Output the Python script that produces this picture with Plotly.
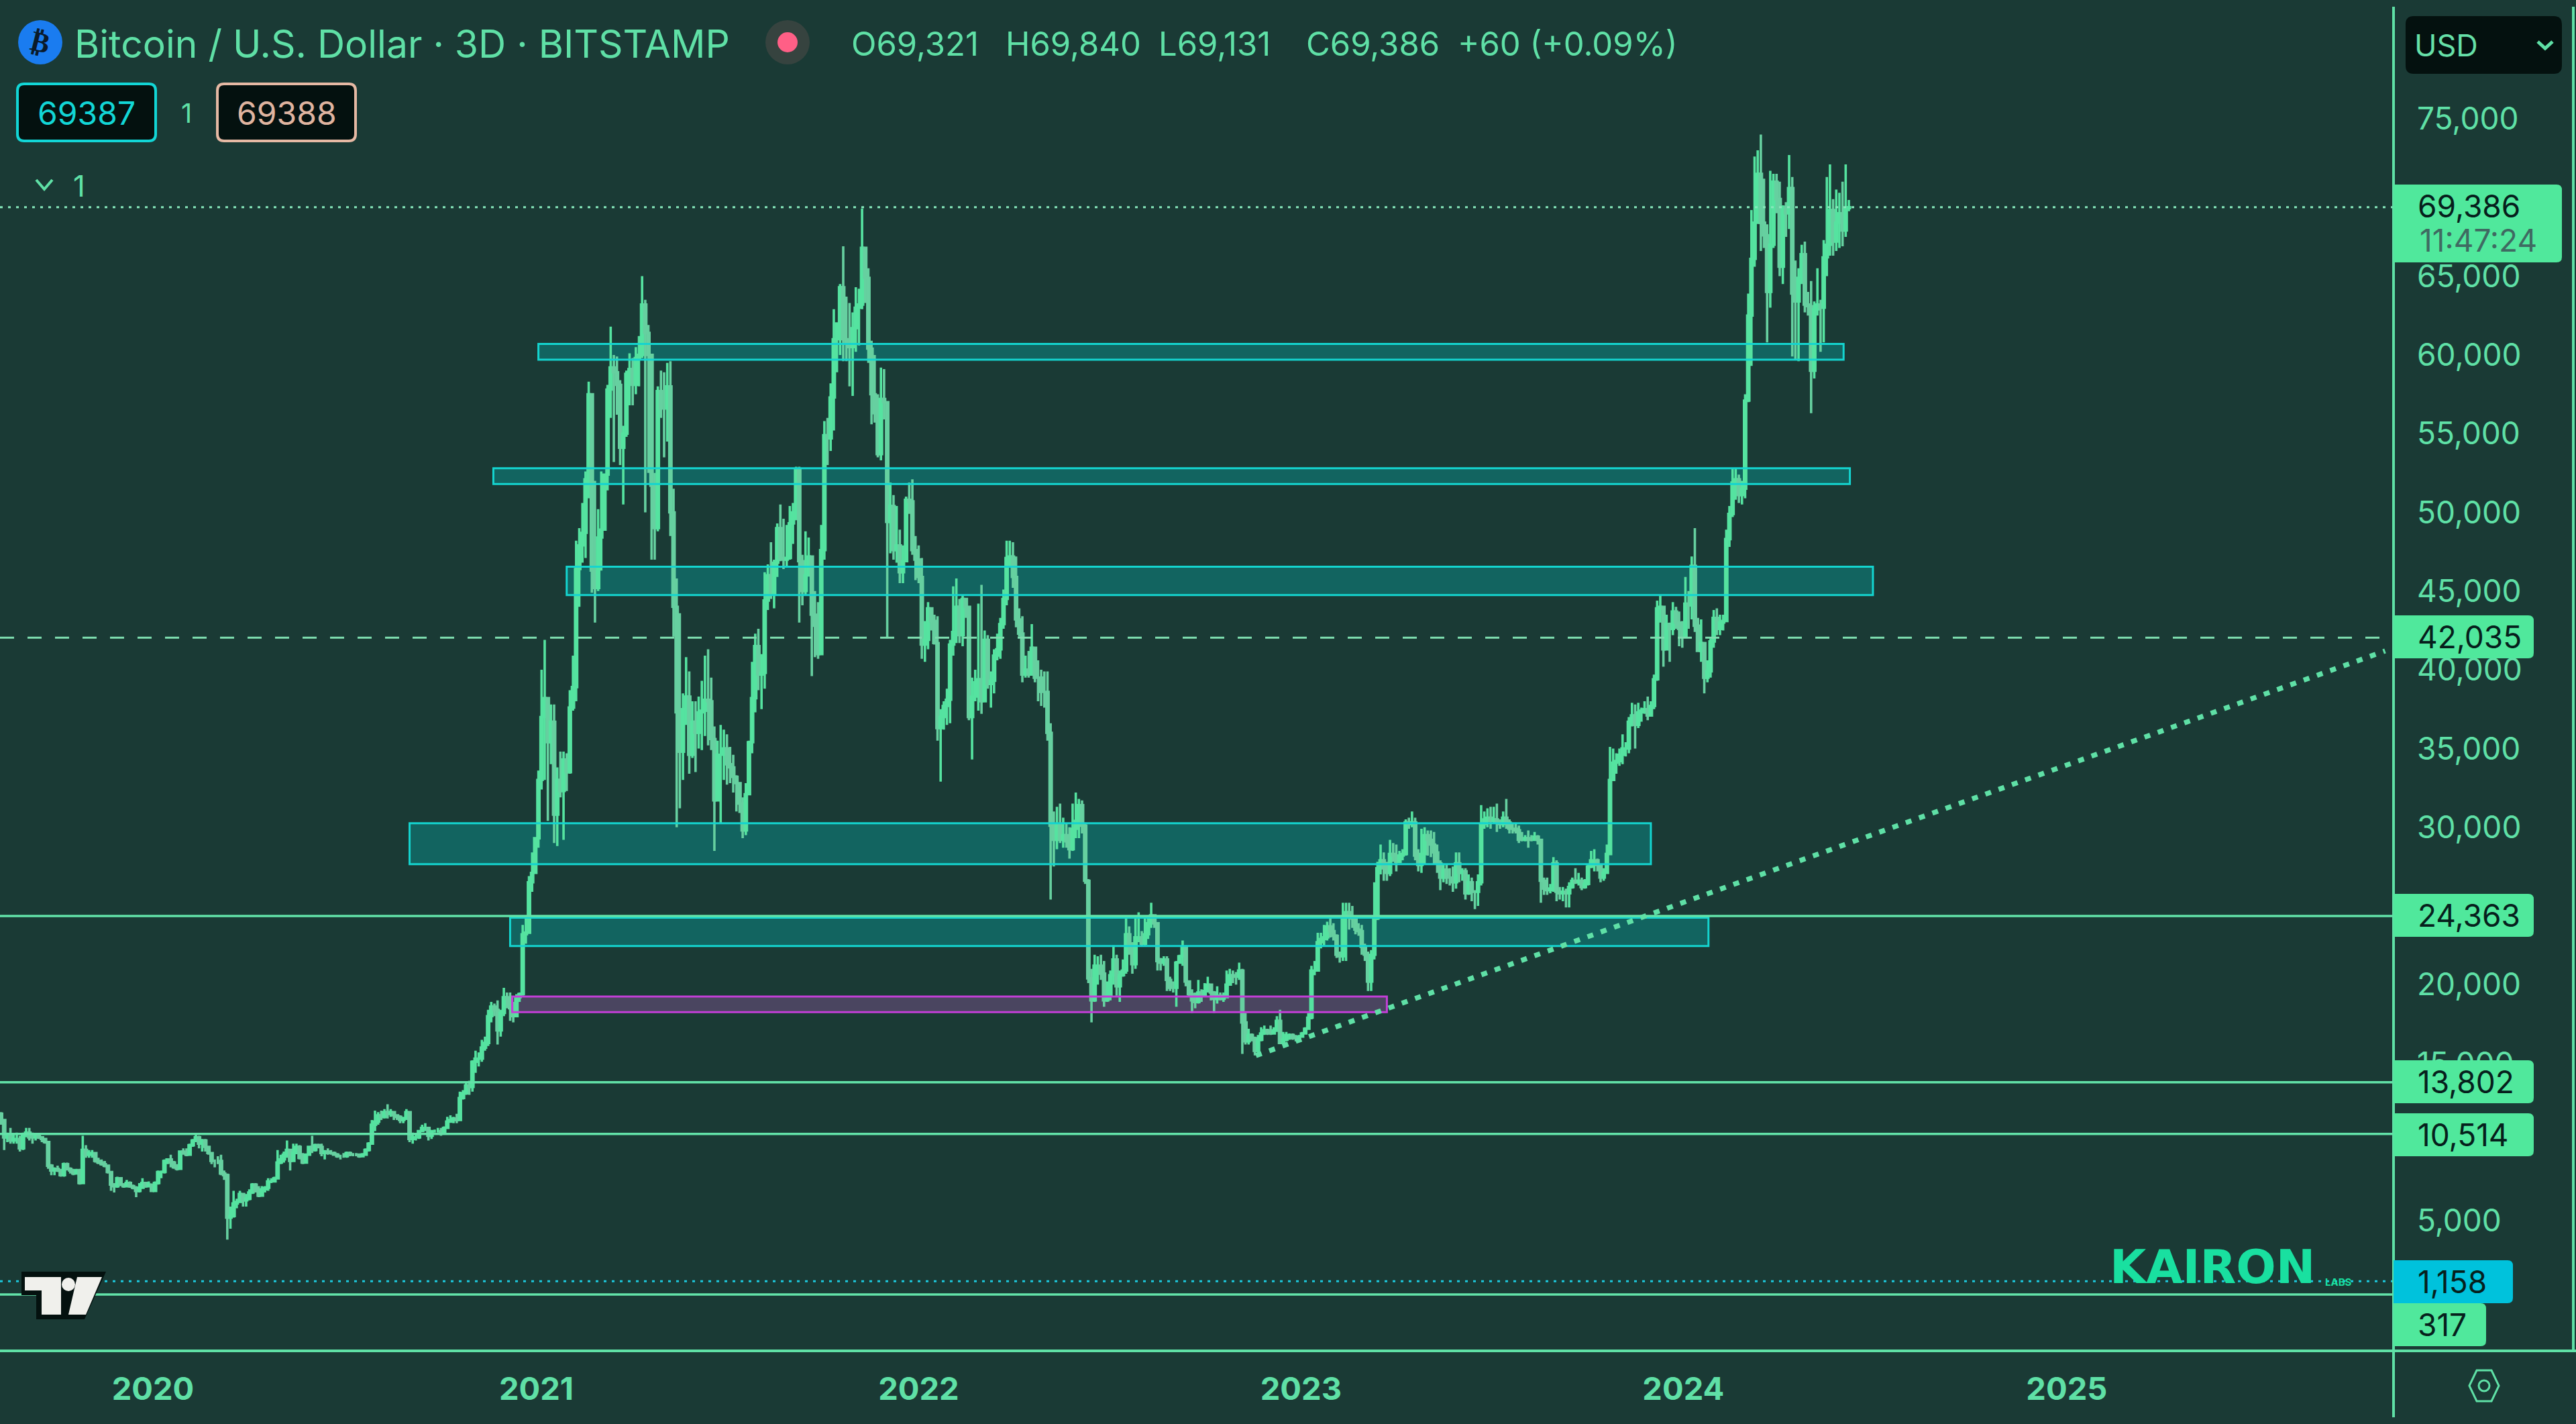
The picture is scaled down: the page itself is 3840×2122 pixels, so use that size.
import pandas as pd
import plotly.graph_objects as go

# ---- data (USD thousands)
first_open = 10.9
closes = [
11.4,11.8,11.4,10.3,10.4,10.1,10.2,10.2,9.6,10.4,
10.6,10.3,10.3,10.4,10.3,10.2,10.0,8.5,8.2,8.3,
8.2,7.9,8.6,8.3,8.2,8.0,8.2,7.4,9.5,9.2,
9.3,9.3,8.8,8.7,8.6,8.5,8.1,7.3,7.2,7.7,
7.3,7.2,7.4,7.2,7.1,6.9,7.1,7.4,7.2,7.3,
6.9,7.4,8.1,8.1,8.8,8.9,8.7,8.4,8.3,9.4,
9.3,9.2,9.8,10.1,10.3,9.9,10.1,9.7,9.3,8.8,
8.8,8.8,8.0,7.9,5.2,5.3,6.1,6.2,6.7,6.3,
6.4,6.8,7.3,6.9,6.6,7.0,7.1,7.5,7.5,7.7,
8.7,8.9,9.2,9.5,8.8,9.3,9.7,9.0,8.7,9.2,
9.7,9.5,9.8,9.7,9.3,9.4,9.3,9.3,9.2,9.1,
9.1,9.1,9.3,9.2,9.2,9.2,9.1,9.2,9.5,9.9,
11.1,11.3,11.7,11.6,11.9,11.8,11.9,11.7,11.6,11.4,
11.5,11.9,10.2,10.3,10.3,10.7,10.9,10.9,10.4,10.7,
10.7,10.7,10.6,10.9,11.3,11.4,11.5,11.4,12.8,13.1,
13.6,13.5,15.1,15.3,15.3,16.0,16.3,18.0,18.6,18.4,
17.1,18.2,19.2,19.1,18.5,18.0,19.2,19.4,23.2,23.3,
26.5,27.1,29.3,33.0,37.0,38.2,35.4,36.7,30.8,33.0,
32.3,34.3,33.5,37.6,38.9,46.4,47.9,48.7,52.1,57.5,
46.3,45.2,48.4,48.9,52.4,57.8,59.2,58.9,58.1,54.1,
55.0,58.8,59.1,58.1,59.8,60.0,63.2,61.4,60.0,51.7,
49.0,57.7,56.6,56.6,58.0,50.0,44.0,37.3,34.8,37.5,
38.3,34.6,36.7,36.0,37.3,37.4,38.1,38.0,35.6,31.7,
34.6,34.6,35.0,34.0,33.8,33.2,32.8,31.5,29.8,32.1,
35.4,38.2,41.5,39.7,39.8,44.4,46.0,44.8,46.8,49.0,
47.1,47.0,47.1,49.3,50.0,52.7,46.9,45.0,46.0,47.2,
43.5,42.8,41.0,47.6,54.9,54.7,57.3,61.0,62.0,64.3,
61.0,60.8,60.5,61.7,63.0,63.2,66.8,64.9,60.4,57.5,
56.3,53.7,57.2,57.0,49.4,50.4,47.6,47.9,46.2,46.9,
50.8,50.7,47.6,47.0,45.9,41.6,41.9,43.9,43.1,41.7,
36.3,37.0,37.7,38.1,41.6,42.4,44.0,42.2,44.5,44.0,
37.0,38.3,39.2,39.4,38.0,41.9,39.1,39.3,40.9,41.3,
42.9,44.5,47.1,47.2,45.9,43.2,42.3,39.7,40.0,39.7,
41.4,39.5,39.5,38.6,38.6,36.0,30.1,29.2,30.2,29.2,
29.5,29.1,28.6,29.9,30.4,31.4,30.1,26.6,20.4,19.0,
21.2,21.2,20.7,19.0,19.3,20.6,21.6,19.9,20.6,20.9,
23.2,22.6,21.3,23.0,23.0,22.6,23.2,23.9,24.4,23.9,
21.5,21.4,21.6,20.3,19.8,19.8,21.4,21.8,22.4,20.2,
19.4,19.0,18.9,19.5,19.3,19.6,20.0,19.5,19.1,19.3,
19.1,19.2,20.0,20.6,20.5,20.5,20.9,17.6,16.4,16.8,
16.6,15.8,16.5,16.9,17.1,17.0,16.9,17.1,17.7,16.3,
16.5,16.8,16.8,16.6,16.6,16.7,16.9,17.2,17.9,20.9,
20.9,22.7,22.9,23.0,23.7,23.4,23.1,21.9,21.8,24.3,
24.6,24.3,24.2,23.5,23.4,22.4,21.9,20.2,21.9,24.2,
27.4,27.9,27.4,27.1,28.3,28.2,27.8,28.2,28.3,30.3,30.2,
30.3,28.2,27.6,28.3,29.5,29.2,28.9,28.4,27.7,26.8,
27.3,26.8,26.8,26.5,27.7,27.1,27.2,25.8,26.5,25.9,
25.9,26.5,30.2,30.5,30.6,30.4,30.5,30.3,30.2,30.6,
30.3,29.9,29.9,29.8,29.2,29.2,29.3,29.2,29.2,29.4,
29.2,26.6,26.1,26.0,26.1,27.7,25.9,25.8,25.9,25.8,
26.2,26.6,26.5,26.6,26.2,26.4,27.5,27.9,27.9,27.6,
26.8,27.1,28.3,33.0,34.1,34.2,34.6,35.0,35.0,36.7,
37.1,36.5,37.3,37.4,37.5,37.1,37.7,39.4,43.9,44.0,
41.3,42.9,42.6,43.7,43.0,42.6,42.1,44.2,44.1,46.6,
42.8,41.2,41.7,39.5,39.9,41.8,43.3,42.6,43.0,43.1,
48.3,49.9,51.9,52.1,51.1,51.5,57.1,62.5,66.1,68.4,
71.5,68.4,67.6,64.0,67.0,71.0,69.9,65.6,69.4,69.0,
70.6,63.9,63.4,64.9,66.4,63.2,63.1,59.0,62.9,63.2,
63.0,66.2,67.0,69.2,67.2,68.4,69.0,67.9,69.321,69.386,
]
highs = [
11.7,12.0,11.9,11.4,10.6,10.9,10.5,10.6,10.4,10.6,
10.9,10.9,10.6,10.5,10.4,10.3,10.2,10.0,8.6,8.4,
8.5,8.3,8.7,8.7,8.4,8.3,8.3,8.3,10.4,9.8,
9.5,9.5,9.3,9.0,8.9,8.8,8.3,8.1,7.4,7.8,
7.4,7.4,7.6,7.5,7.3,7.2,7.4,7.7,7.4,7.5,
7.3,7.5,8.2,8.2,8.9,8.9,9.2,8.8,8.6,9.4,
9.6,9.6,9.9,10.2,10.5,10.4,10.2,10.2,9.7,9.3,
8.9,9.1,9.2,8.2,8.0,5.9,6.9,6.4,6.9,6.7,
6.7,7.0,7.4,7.4,7.2,7.2,7.2,7.7,7.7,7.8,
9.5,9.2,9.4,10.1,9.2,9.9,9.9,9.8,9.3,9.2,
9.7,10.4,9.9,9.9,9.9,9.5,9.6,9.5,9.4,9.3,
9.2,9.3,9.4,9.4,9.3,9.3,9.2,9.3,9.6,10.0,
11.4,12.0,11.9,12.0,12.1,12.4,12.1,11.8,11.7,11.7,
11.6,12.1,11.9,10.6,10.5,10.7,11.1,11.2,10.9,10.7,
10.8,10.9,10.9,11.0,11.6,11.7,11.6,11.8,13.2,13.3,
13.8,13.9,15.2,15.8,15.7,16.5,16.7,18.4,18.9,18.8,
19.0,18.4,19.8,19.5,19.5,18.9,19.4,19.5,23.8,24.2,
26.9,28.4,29.3,33.6,40.0,41.9,38.2,37.8,37.8,33.8,
34.8,34.8,34.7,38.7,40.9,48.2,49.0,50.6,52.6,58.3,
57.5,52.0,50.2,52.6,52.4,58.1,61.8,60.0,59.9,58.4,
55.5,59.0,60.1,59.8,60.5,61.2,65.0,63.5,61.9,56.7,
52.5,58.0,59.0,58.9,59.5,59.6,51.5,45.8,43.6,38.5,
40.8,39.9,38.0,38.0,38.3,39.3,40.9,41.3,39.5,36.4,
35.5,36.5,36.2,35.9,35.1,34.6,33.3,32.3,31.9,32.8,
35.5,40.5,42.3,42.6,41.0,46.2,46.7,48.1,47.0,49.3,
50.5,49.6,49.2,50.4,50.6,52.9,52.9,47.3,48.8,48.4,
43.9,45.0,44.3,49.2,55.8,56.0,58.2,62.9,62.0,64.5,
66.9,63.7,63.3,62.7,64.3,64.2,69.3,66.4,65.5,60.9,
60.0,57.5,59.2,59.1,57.0,51.9,51.1,50.4,48.9,47.9,
51.0,51.9,52.1,48.5,47.9,47.1,43.1,44.3,43.9,43.5,
43.4,37.5,38.0,38.8,41.9,45.3,45.8,44.5,44.7,44.5,
40.4,39.5,40.0,44.2,45.4,42.5,42.2,39.9,41.3,42.3,
43.3,45.1,48.2,48.2,48.1,47.2,43.9,43.4,40.9,41.2,
42.9,41.0,40.6,40.0,39.9,39.9,36.6,31.0,31.3,31.5,
30.6,30.2,30.0,31.5,32.2,31.8,31.7,30.3,26.7,21.0,
21.9,21.8,21.9,21.5,20.2,20.9,22.5,21.9,20.9,21.6,
24.2,23.7,22.7,24.4,24.6,23.4,24.2,24.2,25.2,24.4,
23.6,21.7,21.8,21.8,20.5,20.2,21.5,21.9,22.8,22.5,
20.1,19.7,19.5,20.3,19.7,20.1,20.5,20.0,19.6,19.9,
19.5,19.5,20.9,21.0,20.9,20.8,21.4,21.0,18.2,17.2,
16.9,16.7,16.8,17.3,17.4,17.2,17.4,17.3,18.0,18.4,
17.0,17.0,16.9,16.9,16.8,16.8,17.0,17.3,18.2,21.2,
21.5,23.3,23.3,23.8,24.0,24.2,23.9,23.2,22.1,25.2,
25.2,25.2,25.0,24.1,23.9,23.8,22.6,22.1,22.2,26.5,
27.8,28.9,28.4,27.8,29.2,29.0,28.9,28.5,28.6,30.5,30.6,
31.0,30.6,28.6,29.9,30.0,29.8,29.8,29.7,28.9,27.9,
27.7,27.6,27.4,27.5,28.4,28.4,27.4,27.4,27.0,26.8,
26.0,27.0,31.4,31.0,31.2,31.3,31.3,31.5,30.5,31.0,
31.8,30.5,30.3,30.3,30.1,29.7,29.5,29.8,29.5,29.7,
29.5,29.2,26.8,26.8,26.4,28.1,27.9,26.2,26.2,26.1,
26.5,26.8,27.4,27.1,26.8,26.7,27.6,28.5,28.6,28.0,
27.3,27.4,28.9,35.1,35.0,34.7,35.0,35.9,35.4,37.0,
37.9,37.8,37.9,37.6,38.0,38.3,38.0,39.7,44.4,44.7,
44.0,43.5,43.0,44.3,44.0,43.7,43.1,45.9,45.0,47.2,
49.0,43.3,43.2,41.7,40.6,42.0,43.8,43.9,43.5,43.5,
48.9,50.4,52.8,52.8,52.4,52.0,57.5,63.9,69.2,72.6,
73.0,74.0,71.2,68.3,71.7,71.5,71.5,71.0,69.5,69.7,
72.7,71.3,66.0,65.5,67.0,67.2,64.0,64.7,63.4,65.5,
63.5,67.3,71.3,72.1,69.9,70.5,70.3,71.0,72.1,69.84,
]
lows = [
10.6,11.2,11.1,9.5,10.0,9.9,9.9,9.9,9.4,9.5,
10.3,10.1,9.9,10.1,10.2,10.0,9.9,8.3,7.9,7.9,
8.1,7.8,7.8,8.2,8.0,7.9,8.0,7.3,7.4,9.0,
9.0,9.0,8.7,8.6,8.5,8.4,8.0,6.9,6.8,7.1,
7.2,7.1,7.2,7.1,7.0,6.5,6.8,7.1,7.1,7.2,
6.9,6.9,7.3,7.7,8.0,8.6,8.4,8.3,8.2,8.3,
9.2,9.1,9.2,9.7,10.0,9.6,9.4,9.4,9.2,8.6,
8.4,8.6,7.9,7.6,3.8,4.5,5.2,5.8,6.4,5.9,
5.9,6.3,6.7,6.8,6.5,6.6,6.8,6.9,7.4,7.5,
7.7,8.6,8.7,9.0,8.2,8.8,9.3,8.9,8.6,8.7,
9.2,9.3,9.4,9.6,9.1,8.9,9.2,9.2,9.2,9.0,
8.9,9.0,9.0,9.1,9.1,9.1,9.0,9.1,9.2,9.4,
9.9,10.7,11.1,11.4,11.5,11.5,11.6,11.4,11.4,11.2,
11.2,11.4,10.0,9.9,10.1,10.2,10.7,10.7,10.1,10.2,
10.6,10.6,10.4,10.5,10.9,11.3,11.2,11.2,11.4,12.7,
13.0,13.0,13.2,14.4,14.8,15.1,15.8,16.1,17.6,18.0,
16.2,16.7,18.0,18.5,17.7,17.6,18.0,18.9,19.3,22.6,
23.3,25.9,27.2,28.7,32.4,33.0,30.4,34.0,29.0,28.8,
31.9,29.2,32.3,33.4,37.4,38.0,44.0,46.8,47.1,50.9,
44.9,43.0,45.0,46.3,48.9,51.4,56.0,53.2,56.2,53.0,
50.5,54.8,56.8,56.8,57.5,58.0,59.8,50.0,52.5,47.0,
47.0,48.8,56.0,53.5,54.5,48.5,42.1,30.0,31.2,33.0,
36.5,33.4,34.4,33.5,35.0,34.9,35.8,35.2,34.9,28.5,
31.7,30.2,33.0,32.7,32.8,32.2,31.0,30.9,29.3,29.5,
33.4,34.7,37.3,38.7,37.5,38.8,43.8,44.5,43.9,45.9,
46.9,46.4,46.5,47.0,48.0,49.5,43.0,44.1,44.7,46.8,
39.6,40.8,40.7,41.0,47.0,53.0,53.9,55.2,58.9,60.0,
59.6,59.6,58.0,57.4,60.2,60.6,62.9,63.3,59.5,55.6,
55.7,53.5,53.3,55.9,42.0,47.4,47.0,46.8,45.5,45.5,
47.5,49.9,47.3,45.7,45.5,40.7,40.5,41.3,42.5,41.6,
35.5,32.9,36.2,36.5,36.6,40.9,41.7,41.7,41.5,43.3,
36.8,34.3,38.0,37.4,37.2,38.0,38.8,37.6,38.5,40.6,
40.7,42.6,44.1,46.5,45.2,42.7,42.1,39.2,39.5,39.5,
39.7,39.2,38.0,37.7,37.6,35.5,25.4,27.5,28.6,29.0,
28.7,28.7,28.0,28.5,29.3,29.3,29.6,26.4,20.1,17.6,
18.9,20.0,20.3,18.6,18.9,19.0,20.0,19.3,18.9,20.5,
20.7,21.9,20.7,21.0,22.7,22.4,22.5,22.9,23.6,23.6,
20.9,20.9,21.2,19.6,19.6,19.5,18.6,21.4,21.2,19.9,
19.2,18.2,18.5,18.8,18.9,19.2,19.5,19.0,18.2,18.8,
19.0,18.9,19.2,20.2,20.1,20.0,20.3,15.6,16.2,16.2,
16.4,15.5,15.6,16.4,16.8,16.8,16.8,17.0,17.0,16.3,
16.3,16.4,16.5,16.5,16.4,16.5,16.7,16.9,17.2,17.8,
20.6,20.9,22.3,22.5,22.8,23.0,22.8,21.7,21.4,21.5,
21.5,23.5,23.6,23.2,23.1,21.9,21.5,19.6,19.6,21.6,
24.1,27.0,26.6,26.6,26.9,27.8,27.2,27.8,27.9,28.2,29.9,
30.0,27.9,27.2,27.1,27.6,28.2,28.1,27.6,27.1,26.0,
26.5,26.4,26.3,25.9,26.1,26.5,26.6,25.4,25.7,25.3,
24.8,25.0,26.3,29.9,30.0,29.9,30.2,29.7,29.9,30.0,
29.9,29.6,29.6,29.6,29.0,29.1,29.1,28.7,29.1,29.2,
28.9,25.2,25.7,25.7,25.8,25.9,25.3,25.4,25.3,24.9,
24.9,26.1,26.4,26.3,26.0,26.1,26.3,27.4,27.2,27.2,
26.5,26.6,27.1,29.6,33.4,33.4,33.9,34.0,34.5,34.7,
36.4,35.0,36.3,36.7,37.2,36.8,37.1,37.5,39.3,43.0,
40.2,41.5,40.5,42.2,42.6,41.5,41.4,42.1,42.6,43.2,
42.4,41.3,40.5,38.5,39.2,39.5,41.4,42.2,42.2,42.5,
45.4,47.8,49.7,50.8,50.6,50.5,50.9,57.0,59.3,65.6,
68.6,66.6,66.8,60.8,63.0,66.8,69.0,65.0,64.5,67.5,
68.0,59.9,59.7,59.6,64.5,62.7,62.5,56.3,58.5,62.5,
60.2,60.8,65.0,66.3,66.3,66.6,66.8,66.9,67.5,69.131,
]
first_bar = "2019-08-03"
year_ticks = ["2020-01-01","2021-01-01","2022-01-01","2023-01-01","2024-01-01","2025-01-01"]
price_ticks = [75000,70000,65000,60000,55000,50000,45000,40000,35000,30000,25000,20000,15000,5000]
zone_starts = ["2021-01-03","2020-11-21","2021-01-30","2020-09-02","2020-12-07"]
zone_ends   = ["2024-06-02","2024-06-08","2024-06-30","2023-12-01","2024-01-25"]
zone_lows   = [59700,51800,44750,27650,22450]
zone_highs  = [60700,52800,46550,30250,24250]
purple_zone = ("2020-12-09","2023-03-24",18250,19250)
solid_levels = [24363,13802,10514,317]
current_price = 69386
dashed_level = 42035
cyan_level = 1158
trend_x = ["2022-11-19","2025-11-01"]
trend_y = [15495,41198]

W, H = 3840, 2122
AX_X, AX_Y = 3568, 2013
GREEN = "#5fe0a6"
BG = "#1a3a35"
DARK = "#04110f"
PLOTF = "Inter"

def px(x): return x / W
def py(y): return 1 - y / H

dates = pd.date_range(first_bar, periods=len(closes), freq="3D")
c = [v*1000 for v in closes]
h = [v*1000 for v in highs]
l = [v*1000 for v in lows]
o = [first_open*1000] + c[:-1]

fig = go.Figure(go.Candlestick(
    x=dates, open=o, high=h, low=l, close=c,
    increasing=dict(line=dict(color="#55e3a0", width=3.6), fillcolor="#55e3a0"),
    decreasing=dict(line=dict(color="#66d0a0", width=3.6), fillcolor="#55e3a0"),
    whiskerwidth=0, hoverinfo="skip", showlegend=False))

shapes, ann = [], []
def rrect(x0,y0,x1,y1,fill,line=None,lw=0,r=8):
    d = (f"M {px(x0+r):.5f},{py(y0):.5f} L {px(x1-r):.5f},{py(y0):.5f} Q {px(x1):.5f},{py(y0):.5f} {px(x1):.5f},{py(y0+r):.5f} "
         f"L {px(x1):.5f},{py(y1-r):.5f} Q {px(x1):.5f},{py(y1):.5f} {px(x1-r):.5f},{py(y1):.5f} "
         f"L {px(x0+r):.5f},{py(y1):.5f} Q {px(x0):.5f},{py(y1):.5f} {px(x0):.5f},{py(y1-r):.5f} "
         f"L {px(x0):.5f},{py(y0+r):.5f} Q {px(x0):.5f},{py(y0):.5f} {px(x0+r):.5f},{py(y0):.5f} Z")
    shapes.append(dict(type="path",xref="paper",yref="paper",path=d,fillcolor=fill,
                       line=dict(color=line or fill,width=lw),layer="above"))
def tag(x0,y0,x1,y1,fill,r=8):
    d = (f"M {px(x0):.5f},{py(y0):.5f} L {px(x1-r):.5f},{py(y0):.5f} Q {px(x1):.5f},{py(y0):.5f} {px(x1):.5f},{py(y0+r):.5f} "
         f"L {px(x1):.5f},{py(y1-r):.5f} Q {px(x1):.5f},{py(y1):.5f} {px(x1-r):.5f},{py(y1):.5f} L {px(x0):.5f},{py(y1):.5f} Z")
    shapes.append(dict(type="path",xref="paper",yref="paper",path=d,fillcolor=fill,line_width=0,layer="above"))
def seg(x0,y0,x1,y1,color=GREEN,w=3):
    shapes.append(dict(type="line",xref="paper",yref="paper",x0=px(x0),x1=px(x1),y0=py(y0),y1=py(y1),
                       line=dict(color=color,width=w),layer="above"))
def path(points,color=None,w=0,fill=None,close=True):
    d = "M "+" L ".join(f"{px(a):.5f},{py(b):.5f}" for a,b in points)+(" Z" if close else "")
    shapes.append(dict(type="path",xref="paper",yref="paper",path=d,
                       fillcolor=fill or "rgba(0,0,0,0)",line=dict(color=color or "rgba(0,0,0,0)",width=w),layer="above"))
def circle(cx,cy,r,fill,line=None,lw=0):
    shapes.append(dict(type="circle",xref="paper",yref="paper",x0=px(cx-r),x1=px(cx+r),y0=py(cy+r),y1=py(cy-r),
                       fillcolor=fill,line=dict(color=line or fill,width=lw),layer="above"))
def text(x,y,s,size=46,color=GREEN,anchor="left",family=PLOTF,weight=400,angle=0):
    ann.append(dict(xref="paper",yref="paper",x=px(x),y=py(y),text=s,showarrow=False,xanchor=anchor,yanchor="middle",
                    font=dict(size=size,color=color,family=family,weight=weight),textangle=angle,borderpad=0))

# price zones: fill below the bars, outline above
for x0,x1,lo,hi in zip(zone_starts,zone_ends,zone_lows,zone_highs):
    shapes.append(dict(type="rect",xref="x",yref="y",x0=x0,x1=x1,y0=lo,y1=hi,fillcolor="#126460",line_width=0,layer="below"))
    shapes.append(dict(type="rect",xref="x",yref="y",x0=x0,x1=x1,y0=lo,y1=hi,fillcolor="rgba(0,0,0,0)",
                       line=dict(color="#14d4cf",width=3),layer="above"))
x0,x1,lo,hi = purple_zone
shapes.append(dict(type="rect",xref="x",yref="y",x0=x0,x1=x1,y0=lo,y1=hi,fillcolor="#4a4560",line_width=0,layer="below"))
shapes.append(dict(type="rect",xref="x",yref="y",x0=x0,x1=x1,y0=lo,y1=hi,fillcolor="rgba(0,0,0,0)",
                   line=dict(color="#c23fd6",width=3),layer="above"))

# levels
def hline(v,color,w,dash="solid"):
    shapes.append(dict(type="line",xref="x domain",yref="y",x0=0,x1=1,y0=v,y1=v,
                       line=dict(color=color,width=w,dash=dash),layer="above"))
for v in solid_levels:
    hline(v,"#62e2a8",3.5)
hline(current_price,"#86e8bb",3,"4px,8px")
hline(dashed_level,"#7ddcae",3,"21px,20px")
hline(cyan_level,"#1cc8dc",3,"4px,8px")
shapes.append(dict(type="line",xref="x",yref="y",x0=trend_x[0],x1=trend_x[1],y0=trend_y[0],y1=trend_y[1],
                   line=dict(color="#5fe0a6",width=7.5,dash="9px,12px"),layer="above"))

# frame
seg(AX_X,10,AX_X,2112,w=4)
seg(0,AX_Y,W,AX_Y,w=4)
seg(3836,10,3836,2013,w=4)

# right-hand price tags
LBL = "#50e89c"
tag(AX_X,275,3819,391,LBL)
text(3603,307,f"{current_price:,}",46,"#06201c")
text(3606,358,"11:47:24",46,"#3f6a62")
for v,yc,x1,col in [(dashed_level,949,3777,LBL),(solid_levels[0],1364,3777,LBL),(solid_levels[1],1612,3777,LBL),
                    (solid_levels[2],1691,3777,LBL),(cyan_level,1910,3746,"#00c2dc"),(solid_levels[3],1974,3706,LBL)]:
    tag(AX_X,yc-32,x1,yc+32,col)
    text(3603,yc,f"{v:,}",46,"#06201c")

# header
circle(60,63,33,"#1a7cf0")
text(60,63,"₿",42,"#0a1a2a","center","DejaVu Sans",700,14)
text(110,65,"Bitcoin / U.S. Dollar · 3D · BITSTAMP",57,GREEN)
circle(1174,63,33,"#36433f")
circle(1174,63,15,"#ff5f86")
for x,s in [(1268,"O69,321"),(1498,"H69,840"),(1726,"L69,131"),(1946,"C69,386"),(2172,"+60 (+0.09%)")]:
    text(x,66,s,49,GREEN)
rrect(26,125,232,210,DARK,"#12d6d6",4,10)
text(129,168,"69387",48,"#12d6d6","center")
text(278,168,"1",40,GREEN,"center")
rrect(324,125,530,210,DARK,"#e6b9a4",4,10)
text(427,168,"69388",48,"#e0b5a0","center")
path([(54,268),(66,282),(78,268)],GREEN,4,close=False)
text(118,277,"1",44,GREEN,"center")

# currency box
rrect(3586,24,3819,110,DARK,None,0,12)
text(3598,67,"USD",45,"#66e0a8")
path([(3783,62),(3794,72),(3805,62)],GREEN,5,close=False)

# settings hexagon
path([(3681,2065),(3692,2042),(3714,2042),(3725,2065),(3714,2088),(3692,2088)],GREEN,3)
circle(3703,2065,8,"rgba(0,0,0,0)",GREEN,3)

# watermarks
text(3144,1888,"KAIRON",70,"#19e0a0","left","DejaVu Sans",700)
text(3465,1910,"LABS",15,"#19e0a0","left",PLOTF,700)
path([(32,1895),(158,1895),(126,1966),(54,1966),(54,1930),(32,1930)],fill="#04110f")
path([(37,1903),(91,1903),(91,1959),(62,1959),(62,1923),(37,1923)],fill="#f0f0ec")
circle(102,1914,10,"#f0f0ec")
path([(115,1903),(152,1903),(128,1959),(102,1959)],fill="#f0f0ec")

fig.update_layout(
    width=W,height=H,margin=dict(l=0,r=0,t=0,b=0),autosize=False,
    paper_bgcolor=BG,plot_bgcolor=BG,showlegend=False,hovermode=False,boxgap=0,
    shapes=shapes,annotations=ann,font=dict(family=PLOTF,color=GREEN),
    xaxis=dict(domain=[0,AX_X/W],range=["2019-08-08","2025-11-09"],rangeslider=dict(visible=False),
               tickvals=year_ticks,tickformat="%Y",showgrid=False,zeroline=False,showline=False,ticks="",
               tickfont=dict(size=47,color=GREEN,family=PLOTF,weight=700),ticklabelstandoff=25),
    yaxis=dict(domain=[1-AX_Y/H,1],range=[-3261,82545],side="right",tickvals=price_ticks,tickformat=",d",
               showgrid=False,zeroline=False,showline=False,ticks="",
               tickfont=dict(size=46,color=GREEN,family=PLOTF),ticklabelstandoff=34),
)
fig.write_html("out.html",config=dict(displayModeBar=False,responsive=False),
               post_script="document.body.style.margin='0';document.body.style.background='#1a3a35';")
